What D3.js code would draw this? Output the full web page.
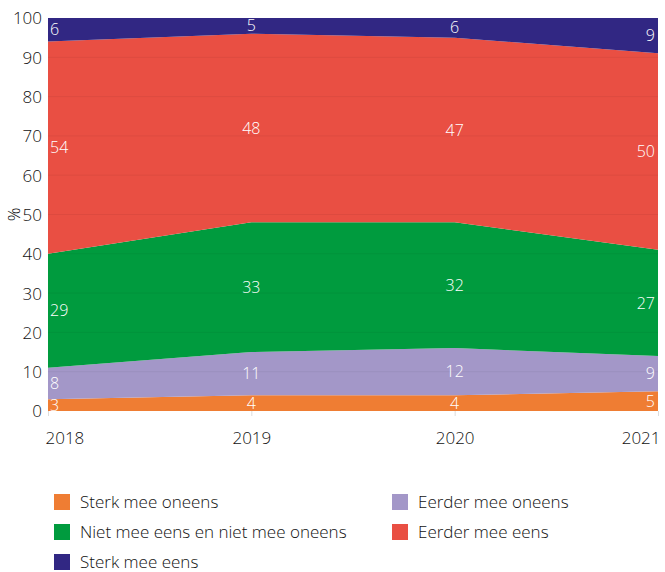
<!DOCTYPE html>
<html><head><meta charset="utf-8">
<script src="https://cdn.jsdelivr.net/npm/d3@7"></script>
<style>body{margin:0;background:#fff}svg{display:block}text{font-family:"Open Sans",sans-serif;font-weight:300}</style>
</head><body><svg id="c" width="665" height="572"></svg>
<script>
const years = ["2018","2019","2020","2021"];
const seriesNames = ["Sterk mee oneens","Eerder mee oneens","Niet mee eens en niet mee oneens","Eerder mee eens","Sterk mee eens"];
const sterkOneens = [3,4,4,5];
const eerderOneens = [8,11,12,9];
const neutraal = [29,33,32,27];
const eerderEens = [54,48,47,50];
const sterkEens = [6,5,6,9];
const yTicks = [0,10,20,30,40,50,60,70,80,90,100];
const colors = ["#EF7D33","#A397C8","#009B3E","#E94F43","#312783"];

const values = [sterkOneens, eerderOneens, neutraal, eerderEens, sterkEens];
const rows = years.map((y,i)=>{const r={year:y}; seriesNames.forEach((s,k)=>r[s]=values[k][i]); return r;});
const stack = d3.stack().keys(seriesNames)(rows);

const svg = d3.select("#c");
const m = {l:48, r:658, t:18, b:411};
const x = d3.scalePoint().domain(years).range([m.l, m.r]);
const y = d3.scaleLinear().domain([0,100]).range([m.b, m.t]);

svg.append("clipPath").attr("id","clip").append("rect")
  .attr("x",m.l).attr("y",m.t).attr("width",m.r-m.l).attr("height",m.b-m.t);

const g = svg.append("g").attr("clip-path","url(#clip)");
const area = d3.area().x(d=>x(d.data.year)).y0(d=>y(d[0])).y1(d=>y(Math.min(d[1],100)));
g.selectAll("path.a").data(stack).join("path").attr("class","a")
  .attr("d",area).attr("fill",(d,i)=>colors[i]);

g.selectAll("line.grid").data(yTicks.slice(1,-1)).join("line").attr("class","grid")
  .attr("x1",m.l).attr("x2",m.r).attr("y1",d=>y(d)).attr("y2",d=>y(d))
  .attr("stroke","#000").attr("stroke-opacity",0.05);

const ya = svg.append("g").attr("transform",`translate(${m.l},0)`)
  .call(d3.axisLeft(y).tickValues(yTicks).tickSize(0).tickPadding(6));
ya.select(".domain").remove();
ya.selectAll("text").attr("font-size",17).attr("fill","#111").attr("font-family","Open Sans").attr("dy","0.35em");

const xa = svg.append("g").attr("transform",`translate(0,${m.b})`)
  .call(d3.axisBottom(x).tickSize(5).tickPadding(16));
xa.select(".domain").remove();
xa.selectAll("line").attr("stroke","#ddd");
xa.selectAll("text").attr("font-size",17).attr("fill","#111").attr("font-family","Open Sans")
  .attr("text-anchor",(d,i)=>i===0?"start":(i===years.length-1?"end":"middle"))
  .attr("dx",(d,i)=>i===0?-3:(i===years.length-1?2:0));

svg.append("text").attr("transform",`translate(20,${(m.t+m.b)/2}) rotate(-90)`)
  .attr("text-anchor","middle").attr("font-size",17).attr("fill","#111").text("%");

stack.forEach((s)=>{
  s.forEach((d,i)=>{
    const top = Math.min(d[1],100);
    const mid = (d[0]+top)/2;
    const anchor = i===0?"start":(i===years.length-1?"end":"middle");
    const dx = i===0?2:(i===years.length-1?-3:0);
    svg.append("text").attr("x",x(d.data.year)+dx).attr("y",y(mid)).attr("dy","0.35em")
      .attr("text-anchor",anchor).attr("font-size",16).attr("fill","#fff")
      .text(d.data[s.key]);
  });
});

const legendItems = [
  {name:seriesNames[0], c:colors[0], col:0, row:0},
  {name:seriesNames[1], c:colors[1], col:1, row:0},
  {name:seriesNames[2], c:colors[2], col:0, row:1},
  {name:seriesNames[3], c:colors[3], col:1, row:1},
  {name:seriesNames[4], c:colors[4], col:0, row:2}
];
const lg = svg.append("g");
legendItems.forEach(it=>{
  const lx = it.col===0?54:392, ly = 494 + it.row*30;
  lg.append("rect").attr("x",lx).attr("y",ly).attr("width",16).attr("height",16).attr("fill",it.c);
  lg.append("text").attr("x",lx+26).attr("y",ly+8).attr("dy","0.35em").attr("font-size",17)
    .attr("fill","#111").text(it.name);
});
</script></body></html>
